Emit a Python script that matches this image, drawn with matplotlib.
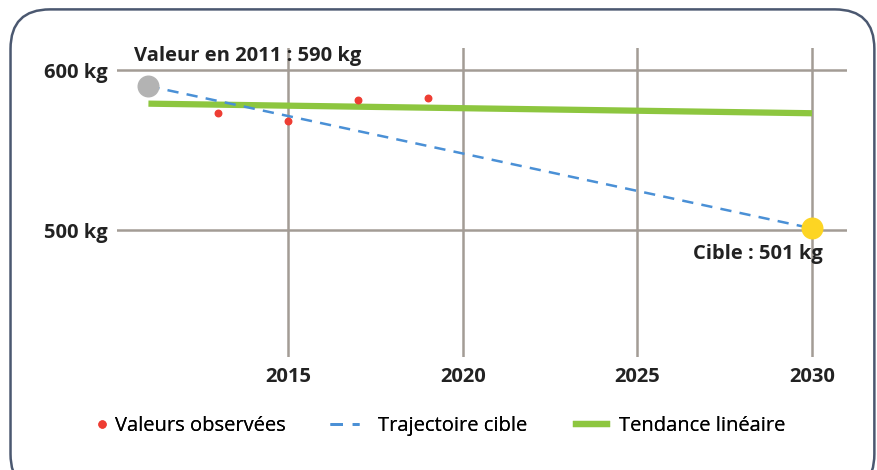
import matplotlib.pyplot as plt
from matplotlib.patches import FancyBboxPatch
from matplotlib.lines import Line2D

plt.rcParams['font.family'] = ['Open Sans', 'DejaVu Sans']

# donnees
annees_obs = [2013, 2015, 2017, 2019]
valeurs_obs = [573, 568, 581, 582.5]
annees_cible = [2011, 2030]
valeurs_cible = [590, 501]
annees_tendance = [2011, 2030]
valeurs_tendance = [579, 573]
xticks = [2015, 2020, 2025, 2030]
yticks = [500, 600]
ylabels = ['500 kg', '600 kg']

rouge = '#ee3d33'
bleu = '#4a90d6'
vert = '#8dc63f'
grille = '#a39c95'
texte = '#222222'

fig = plt.figure(figsize=(8.77, 4.7), dpi=100)

# cadre arrondi
cadre = FancyBboxPatch((0.012, -0.05), 0.985, 1.03, boxstyle='round,pad=0,rounding_size=0.045',
                       transform=fig.transFigure, facecolor='none', edgecolor='#4b5870',
                       linewidth=1.8, mutation_aspect=877/470, zorder=-1)
fig.patches.append(cadre)

ax = fig.add_axes([0.1334, 0.2404, 0.8324, 0.6575])
ax.set_facecolor('none')
ax.set_xlim(2010.1, 2031)
ax.set_ylim(420.6, 613.8)
for s in ax.spines.values():
    s.set_visible(False)

for v in yticks:
    ax.axhline(v, color=grille, lw=1.8, zorder=1)
for a in xticks:
    ax.axvline(a, color=grille, lw=1.8, zorder=1)

ax.set_xticks(xticks)
ax.set_xticklabels([str(a) for a in xticks], fontsize=14.5, fontweight='bold', color=texte)
ax.set_yticks(yticks)
ax.set_yticklabels(ylabels, fontsize=14.5, fontweight='bold', color=texte)
ax.tick_params(length=0)
ax.tick_params(axis='x', pad=7)
ax.tick_params(axis='y', pad=7)

ax.plot(annees_tendance, valeurs_tendance, color=vert, lw=4.5, solid_capstyle='butt', zorder=3)
ax.plot(annees_cible, valeurs_cible, color=bleu, lw=1.8, dashes=(4.5, 3.3), zorder=4)
ax.scatter(annees_obs, valeurs_obs, color=rouge, s=22, zorder=5)
ax.scatter([annees_cible[0]], [valeurs_cible[0]], color='#b3b3b3', s=220, zorder=6, clip_on=False)
ax.scatter([annees_cible[1]], [valeurs_cible[1]], color='#fdd523', s=220, zorder=6, clip_on=False)

ax.text(2010.6, 602.5, 'Valeur en 2011 : 590 kg', fontsize=14.5, fontweight='bold', color=texte, ha='left', va='bottom')
ax.text(2030.3, 485, 'Cible : 501 kg', fontsize=14.5, fontweight='bold', color=texte, ha='right', va='center')

# legende en trois morceaux
noms = ['Valeurs observées', 'Trajectoire cible', 'Tendance linéaire']
handles = [
    Line2D([], [], color=rouge, marker='o', ls='none', markersize=5),
    Line2D([], [], color=bleu, lw=2, dashes=(4.5, 3.5)),
    Line2D([], [], color=vert, lw=4.5),
]
positions = [0.111, 0.376, 0.657]
longueurs = [0.45, 1.45, 1.55]
espaces = [0.45, 0.95, 0.6]
for h, nom, px, lg, esp in zip(handles, noms, positions, longueurs, espaces):
    leg = fig.legend([h], [nom], loc='center left', bbox_to_anchor=(px, 0.093), frameon=False,
                     fontsize=14.5, handlelength=lg, handletextpad=esp, borderpad=0, borderaxespad=0)
    fig.add_artist(leg)

fig.savefig('out.png', dpi=100)
